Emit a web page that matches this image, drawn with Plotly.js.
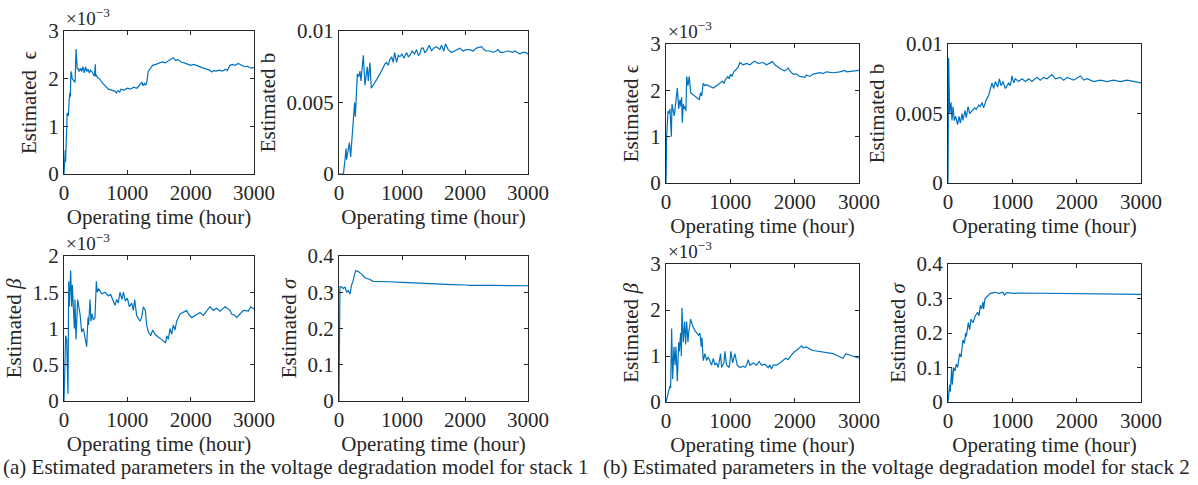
<!DOCTYPE html>
<html><head><meta charset="utf-8">
<script src="https://cdn.plot.ly/plotly-3.0.1.min.js"></script>
<style>html,body{margin:0;padding:0;background:#fff}</style>
</head><body><div id="chart" style="width:1198px;height:485px"></div>
<script>
// Stack 1 — epsilon (x10^-3)
const eps1_t = [0,10,20,25,30,40,50,60,70,80,90,100,110,120,130,140,150,160,175,190,200,210,220,240,260,280,300,320,340,360,380,400,420,440,460,480,495,500,510,530,560,600,650,700,750,800,830,850,880,900,950,1000,1050,1100,1150,1200,1230,1250,1270,1290,1310,1330,1360,1400,1450,1500,1550,1600,1650,1700,1730,1760,1800,1850,1900,1950,2000,2050,2100,2150,2200,2250,2300,2330,2360,2400,2450,2500,2550,2580,2620,2660,2700,2750,2800,2850,2900,2950,3000];
const eps1_v = [0,0.2,0.5,0.25,0.5,1.0,1.28,1.25,1.22,1.5,1.7,1.62,2.15,2.1,2.0,1.98,1.95,1.93,1.92,2.62,2.4,2.2,2.22,2.15,2.22,2.15,2.25,2.12,2.25,2.15,2.2,2.12,2.18,2.15,2.1,2.05,2.3,2.05,2.08,2.02,2.0,1.92,1.85,1.78,1.76,1.74,1.70,1.75,1.72,1.78,1.76,1.8,1.78,1.82,1.80,1.88,1.92,1.85,1.9,1.86,1.95,2.15,2.2,2.28,2.3,2.32,2.35,2.33,2.38,2.42,2.44,2.38,2.4,2.35,2.33,2.3,2.28,2.3,2.27,2.25,2.22,2.2,2.18,2.14,2.17,2.16,2.18,2.16,2.2,2.17,2.28,2.3,2.28,2.32,2.28,2.25,2.26,2.22,2.23];
// Stack 1 — b
const b1_t = [0,40,70,95,111,121,148,164,185,217,248,259,269,291,312,333,349,386,412,449,465,491,512,544,597,650,703,730,755,780,808,835,861,882,914,940,967,1000,1030,1072,1100,1125,1160,1200,1231,1260,1284,1310,1337,1360,1389,1432,1469,1500,1548,1601,1627,1664,1690,1733,1786,1830,1865,1918,1970,2020,2076,2130,2182,2261,2300,2340,2400,2446,2490,2525,2560,2604,2680,2763,2789,2830,2869,2921,2960,3000];
const b1_v = [0,0,0,0.001,0.0018,0.001,0.002,0.0022,0.0012,0.003,0.005,0.004,0.0052,0.007,0.0068,0.0072,0.0065,0.0083,0.0062,0.0075,0.0065,0.0078,0.006,0.0062,0.0066,0.007,0.0075,0.0077,0.0078,0.0076,0.008,0.0082,0.0078,0.0085,0.0078,0.0083,0.0082,0.0084,0.0081,0.0085,0.0082,0.0083,0.0086,0.0084,0.0087,0.0083,0.0084,0.0088,0.0088,0.0085,0.0086,0.009,0.0086,0.0088,0.0089,0.0087,0.009,0.0086,0.0091,0.0087,0.0085,0.0086,0.0087,0.0088,0.0086,0.0087,0.0087,0.0086,0.0088,0.0089,0.0087,0.0086,0.0086,0.0085,0.0086,0.0087,0.0085,0.0085,0.0086,0.0085,0.0086,0.0085,0.0084,0.0085,0.0085,0.0084];
// Stack 1 — beta (x10^-3)
const beta1_t = [0,26,42,63,74,84,105,121,132,147,163,174,189,216,232,253,279,305,337,358,379,389,411,426,442,463,489,511,526,547,595,647,700,737,768,805,832,858,874,884,916,937,968,1000,1032,1068,1095,1116,1147,1200,1226,1253,1284,1305,1332,1368,1400,1437,1489,1542,1605,1621,1647,1674,1700,1726,1753,1779,1805,1832,1937,1963,2016,2068,2147,2200,2253,2305,2358,2411,2463,2542,2621,2647,2700,2726,2779,2832,2911,2947,3000];
const beta1_v = [0,0.9,0.85,0.1,1.65,1.3,1.8,1.3,1.6,1.25,1.0,1.4,0.85,1.4,1.3,1.2,0.95,1.0,0.85,0.75,1.15,1.05,1.4,1.1,1.2,1.12,1.15,1.65,1.5,1.55,1.48,1.5,1.45,1.47,1.4,1.32,1.4,1.35,1.45,1.5,1.4,1.5,1.38,1.42,1.3,1.35,1.25,1.4,1.18,1.1,1.15,1.3,1.25,1.05,0.95,0.9,0.98,0.92,0.88,0.85,0.8,0.9,0.85,1.0,0.92,1.05,0.98,1.1,1.15,1.2,1.25,1.2,1.15,1.18,1.22,1.18,1.25,1.3,1.25,1.28,1.24,1.3,1.25,1.2,1.18,1.15,1.2,1.25,1.24,1.3,1.27];
// Stack 1 — sigma
const sig1_t = [0,8,15,42,68,95,121,148,174,200,222,248,269,306,359,412,465,491,544,600,800,1000,1200,1500,1800,2000,2100,2400,2700,3000];
const sig1_v = [0,0.31,0.315,0.315,0.31,0.315,0.3,0.305,0.295,0.32,0.33,0.35,0.36,0.357,0.35,0.34,0.338,0.335,0.33,0.33,0.329,0.327,0.325,0.323,0.321,0.32,0.319,0.319,0.318,0.318];
// Stack 2 — epsilon (x10^-3)
const eps2_t = [0,10,31,47,62,83,93,114,129,145,176,197,217,233,243,253,269,285,300,310,321,341,362,383,424,476,517,538,554,579,605,631,683,735,786,838,879,900,931,962,983,1004,1024,1055,1086,1122,1148,1200,1252,1304,1345,1381,1433,1511,1562,1614,1655,1692,1743,1795,1847,1899,1924,1976,2028,2080,2157,2183,2235,2287,2390,2442,2494,2597,2700,2778,2804,2907,3000];
const eps2_v = [0,1.0,1.55,1.5,1.6,1.0,1.7,1.5,1.45,1.65,2.05,1.6,1.8,1.65,1.85,1.3,1.7,1.6,1.65,1.55,2.3,2.1,2.3,1.95,1.9,1.85,1.8,1.95,1.88,2.15,2.1,2.12,2.08,2.05,2.1,2.15,2.2,2.15,2.25,2.3,2.25,2.35,2.3,2.4,2.45,2.5,2.6,2.55,2.58,2.55,2.6,2.63,2.58,2.6,2.55,2.58,2.62,2.55,2.5,2.45,2.42,2.48,2.42,2.35,2.35,2.3,2.28,2.33,2.3,2.35,2.38,2.36,2.4,2.38,2.4,2.43,2.4,2.42,2.43];
// Stack 2 — b
const b2_t = [0,10,26,47,62,78,98,119,150,171,192,218,233,264,285,311,337,373,415,440,477,503,528,554,596,632,658,684,710,736,772,798,824,855,891,943,969,995,1021,1047,1098,1150,1202,1254,1306,1383,1435,1487,1539,1617,1668,1746,1798,1850,1902,1953,2057,2109,2161,2264,2368,2472,2575,2679,2782,2886,3000];
const b2_v = [0,0.0090,0.0050,0.0058,0.0045,0.0055,0.0045,0.0048,0.0042,0.0048,0.0043,0.0050,0.0045,0.0052,0.0047,0.0055,0.0050,0.0052,0.0054,0.0053,0.0056,0.0055,0.0058,0.0054,0.0060,0.0063,0.0068,0.0072,0.0068,0.0073,0.0069,0.0075,0.0070,0.0073,0.0068,0.0072,0.0070,0.0077,0.0072,0.0075,0.0073,0.0075,0.0073,0.0075,0.0073,0.0076,0.0074,0.0076,0.0075,0.0078,0.0075,0.0076,0.0074,0.0076,0.0075,0.0074,0.0077,0.0074,0.0075,0.0073,0.0074,0.0073,0.0074,0.0073,0.0074,0.0073,0.0072];
// Stack 2 — beta (x10^-3)
const beta2_t = [0,36,62,72,88,103,124,140,155,176,197,207,228,238,248,269,290,305,321,341,352,383,414,450,476,507,528,548,559,579,605,631,657,683,709,735,760,786,812,848,864,900,916,942,983,1009,1035,1071,1107,1148,1200,1226,1252,1278,1304,1355,1407,1449,1485,1536,1588,1614,1640,1666,1718,1769,1821,1862,1899,1935,1966,2002,2054,2106,2131,2183,2235,2287,2390,2442,2545,2597,2675,2752,2794,2855,2933,3000];
const beta2_v = [0,0.2,0.35,0.3,1.6,0.5,1.2,0.8,1.2,0.45,1.3,1.1,1.5,1.0,2.05,1.3,1.75,1.25,1.75,1.3,1.5,1.8,1.65,1.55,1.5,1.45,1.5,1.2,1.4,0.9,1.05,0.9,0.98,0.9,0.8,0.95,0.8,0.85,0.75,1.05,0.75,0.85,1.1,0.8,0.75,1.1,0.85,1.05,0.8,0.75,0.78,0.75,0.8,0.92,0.8,0.85,0.8,0.88,0.8,0.82,0.75,0.8,0.72,0.8,0.8,0.85,0.9,0.95,0.92,1.0,1.05,1.1,1.15,1.22,1.18,1.2,1.15,1.12,1.1,1.08,1.06,1.05,1.0,0.95,1.05,1.02,0.98,0.95];
// Stack 2 — sigma
const sig2_t = [0,26,36,57,67,88,109,130,150,181,202,233,254,275,285,316,337,358,389,425,461,482,503,523,544,554,575,606,658,736,788,855,876,917,1021,1124,1539,2057,3000];
const sig2_v = [0,0.05,0.03,0.1,0.05,0.1,0.09,0.11,0.1,0.14,0.13,0.18,0.17,0.2,0.19,0.23,0.21,0.24,0.23,0.25,0.26,0.25,0.28,0.27,0.29,0.27,0.3,0.305,0.315,0.318,0.315,0.318,0.31,0.317,0.315,0.316,0.315,0.313,0.312];

const xTicks = [0,1000,2000,3000];
const xTitle = 'Operating time (hour)';

const W = 1198, H = 485;
const FONT = '"Liberation Serif", "Times New Roman", serif';
const INK = '#262626';
const BLUE = '#0072BD';
const FS = 21;

// panels: [t, v, yRange, dtick, yTitle, pixel box [left,right,top,bottom], exponent label]
const panels = [
  [eps1_t, eps1_v, [0,3], 1, 'Estimated  ϵ', [64,254,31,174], true],
  [b1_t, b1_v, [0,0.01], 0.005, 'Estimated b', [339,528,31,174], false],
  [beta1_t, beta1_v, [0,2], 0.5, 'Estimated <i>β</i>', [64,254,256,401], true],
  [sig1_t, sig1_v, [0,0.4], 0.1, 'Estimated <i>σ</i>', [339,528,256,401], false],
  [eps2_t, eps2_v, [0,3], 1, 'Estimated ϵ', [666,859,44,183], true],
  [b2_t, b2_v, [0,0.01], 0.005, 'Estimated b', [948,1141,44,183], false],
  [beta2_t, beta2_v, [0,3], 1, 'Estimated <i>β</i>', [666,859,264,402], true],
  [sig2_t, sig2_v, [0,0.4], 0.1, 'Estimated <i>σ</i>', [948,1141,264,402], false]
];

const data = [];
const layout = {
  width: W, height: H,
  margin: {l:0, r:0, t:0, b:0},
  paper_bgcolor: '#fff', plot_bgcolor: '#fff',
  showlegend: false,
  font: {family: FONT, size: FS, color: INK},
  annotations: []
};

panels.forEach((p, i) => {
  const n = i + 1;
  const xs = n === 1 ? '' : String(n);
  const [t, v, yr, dt, yt, box, expo] = p;
  data.push({x: t, y: v, type: 'scatter', mode: 'lines',
    xaxis: 'x' + xs, yaxis: 'y' + xs,
    line: {color: BLUE, width: 1.2}, hoverinfo: 'skip'});
  const common = {showline: true, linecolor: INK, linewidth: 1, mirror: 'ticks',
    ticks: 'inside', ticklen: 4, tickcolor: INK, showgrid: false, zeroline: false,
    tickfont: {family: FONT, size: FS, color: INK}, fixedrange: true};
  layout['xaxis' + xs] = Object.assign({}, common, {
    domain: [box[0]/W, box[1]/W], anchor: 'y' + xs,
    range: [0, 3000], tickvals: xTicks,
    title: {text: xTitle, font: {family: FONT, size: FS, color: INK}, standoff: 1}
  });
  layout['yaxis' + xs] = Object.assign({}, common, {
    domain: [1 - box[3]/H, 1 - box[2]/H], anchor: 'x' + xs,
    range: yr, dtick: dt, tick0: 0,
    title: {text: yt, font: {family: FONT, size: FS, color: INK}, standoff: 5}
  });
  if (expo) {
    layout.annotations.push({xref: 'x' + xs + ' domain', yref: 'y' + xs + ' domain',
      x: 0, y: 1, xanchor: 'left', yanchor: 'bottom', showarrow: false,
      text: '×10<sup>−3</sup>', font: {family: FONT, size: 19, color: INK}});
  }
});

layout.annotations.push({xref: 'paper', yref: 'paper', x: 0.5/W, y: 1 - 467/H,
  xanchor: 'left', yanchor: 'middle', showarrow: false,
  text: '(a) Estimated parameters in the voltage degradation model for stack 1',
  font: {family: FONT, size: FS, color: INK}});
layout.annotations.push({xref: 'paper', yref: 'paper', x: 896/W, y: 1 - 467/H,
  xanchor: 'center', yanchor: 'middle', showarrow: false,
  text: '(b) Estimated parameters in the voltage degradation model for stack 2',
  font: {family: FONT, size: FS, color: INK}});

Plotly.newPlot('chart', data, layout, {staticPlot: true, displayModeBar: false});
</script></body></html>
